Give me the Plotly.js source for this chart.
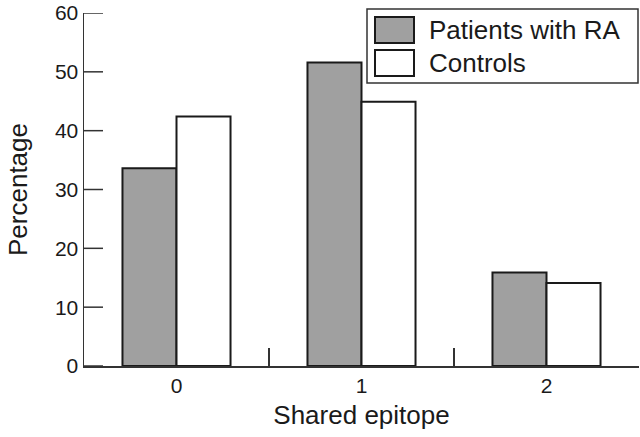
<!DOCTYPE html>
<html>
<head>
<meta charset="utf-8">
<script src="https://cdn.plot.ly/plotly-3.0.1.min.js"></script>
<style>html,body{margin:0;padding:0;background:#fff}#chart{width:640px;height:437px}</style>
</head>
<body>
<div id="chart"></div>
<script>
// shared epitope copies vs percentage, RA patients vs controls
const categories = ["0", "1", "2"];
const seriesNames = ["Patients with RA", "Controls"];
const patientsRA = [33.6, 51.6, 15.9];
const controls = [42.4, 44.9, 14.1];
const yTicks = [0, 10, 20, 30, 40, 50, 60];

const FONT = "Liberation Sans, Arial, sans-serif";
const INK = "#1a1a1a";
const AXIS = "#333";
const fills = ["#a0a0a0", "#ffffff"];

const traces = [patientsRA, controls].map((vals, i) => ({
  type: "bar", x: categories, y: vals, name: seriesNames[i],
  marker: {color: fills[i], line: {color: INK, width: 2}},
  hoverinfo: "x+y"
}));

// y ticks point inward; plotly drops the ones at the plot edges, so draw them on the y scale
const shapes = yTicks.map(v => ({
  type: "line", xref: "paper", yref: "y", x0: 0, x1: 19 / 555, y0: v, y1: v,
  line: {color: AXIS, width: 1.5}
}));

// hand-drawn legend (big swatches like the original)
const px = x => (x - 84) / 555, py = y => (366 - y) / 353;
shapes.push({type: "rect", xref: "paper", yref: "paper", x0: px(367), x1: px(638), y0: py(83), y1: py(9),
  line: {color: AXIS, width: 1.5}, fillcolor: "#fff"});
const annotations = [];
seriesNames.forEach((n, i) => {
  const top = 17 + i * 33;
  shapes.push({type: "rect", xref: "paper", yref: "paper", x0: px(375), x1: px(414),
    y0: py(top + 26), y1: py(top), line: {color: INK, width: 2}, fillcolor: fills[i]});
  annotations.push({xref: "paper", yref: "paper", x: px(427), y: py(top + 13), text: n,
    showarrow: false, xanchor: "left", yanchor: "middle", font: {size: 26, color: INK, family: FONT}});
});

const layout = {
  width: 640, height: 437,
  margin: {l: 84, r: 1, t: 13, b: 71},
  paper_bgcolor: "#fff", plot_bgcolor: "#fff",
  font: {family: FONT, color: INK},
  showlegend: false,
  barmode: "group", bargap: 0.416, bargroupgap: 0,
  xaxis: {
    type: "category", tickson: "boundaries", ticks: "inside", ticklen: 18, tickwidth: 1.5, tickcolor: AXIS,
    showline: true, linecolor: AXIS, linewidth: 1.5, showgrid: false, zeroline: false,
    tickfont: {size: 21}, title: {text: "Shared epitope", font: {size: 26}, standoff: 10}
  },
  yaxis: {
    range: [0, 60], tickmode: "array", tickvals: yTicks, ticks: "",
    showline: true, linecolor: AXIS, linewidth: 1.5, showgrid: false, zeroline: false,
    tickfont: {size: 21}, ticksuffix: "  ", ticklabeloverflow: "allow",
    title: {text: "Percentage", font: {size: 26}, standoff: 20}
  },
  shapes: shapes, annotations: annotations
};

Plotly.newPlot("chart", traces, layout, {displayModeBar: false, staticPlot: true});
</script>
</body>
</html>
